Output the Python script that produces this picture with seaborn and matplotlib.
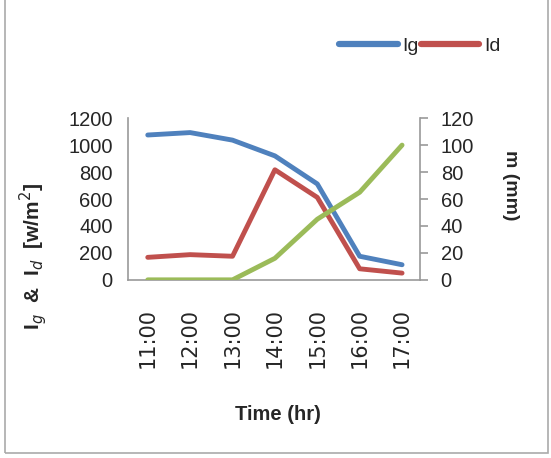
import matplotlib
matplotlib.use("Agg")
import matplotlib.pyplot as plt
from matplotlib.lines import Line2D
from matplotlib.patches import Rectangle
import seaborn as sns
import pandas as pd

times = ["11:00", "12:00", "13:00", "14:00", "15:00", "16:00", "17:00"]
ig = [1075, 1093, 1037, 920, 712, 175, 112]
id_ = [167, 187, 175, 817, 612, 82, 50]
m = [0, 0, 0, 16, 45, 65, 100]

sns.set_theme(style="white")
plt.rcParams['font.family'] = ['Liberation Sans', 'DejaVu Sans']

pos = list(range(len(times)))
df = pd.DataFrame({"pos": pos, "Ig": ig, "Id": id_, "m": m})

blue, red, green = "#4F81BD", "#C0504D", "#9BBB59"
fig = plt.figure(figsize=(5.51, 4.58), dpi=100)
ax = fig.add_axes([0.232, 0.389, 0.530, 0.353])
ax2 = ax.twinx()

sns.lineplot(data=df, x="pos", y="Ig", ax=ax, color=blue, linewidth=3.5, legend=False)
sns.lineplot(data=df, x="pos", y="Id", ax=ax, color=red, linewidth=3.5, legend=False)
sns.lineplot(data=df, x="pos", y="m", ax=ax2, color=green, linewidth=3.5, legend=False)

ax.set_xlim(-0.47, 6.42)
ax.set_ylim(0, 1200)
ax2.set_ylim(0, 120)
ax.set_yticks(range(0, 1201, 200))
ax2.set_yticks(range(0, 121, 20))
ax.set_xticks(pos)
ax.set_xticklabels(times, rotation=90, fontsize=15, va='top', family=['DejaVu Sans'])
ax.tick_params(axis='y', labelsize=14.5, length=0, pad=11)
ax.tick_params(axis='x', length=0, pad=20)
ax2.tick_params(axis='y', labelsize=14.5, length=6, width=1.2, color="#999999", direction='out', pad=9)
for a in (ax, ax2):
    a.set_ylabel("")
    a.set_xlabel("")
    for s in a.spines.values():
        s.set_visible(False)
ax.spines['left'].set_visible(True)
ax.spines['bottom'].set_visible(True)
ax2.spines['right'].set_visible(True)
for s in (ax.spines['left'], ax.spines['bottom'], ax2.spines['right']):
    s.set_color("#999999")
    s.set_linewidth(1.2)

fig.text(0.505, 0.094, "Time (hr)", fontsize=14.5, fontweight='bold', ha='center', va='center')
fig.text(0.06, 0.44, "I$_g$  &  I$_d$  [w/m$^2$]", rotation=90, fontsize=15,
         fontweight='bold', ha='center', va='center')
fig.text(0.926, 0.596, "m (mm)", rotation=270, fontsize=14,
         fontweight='bold', ha='center', va='center')

handles = [Line2D([], [], color=blue, linewidth=4.5), Line2D([], [], color=red, linewidth=4.5)]
fig.legend(handles, ["Ig", "Id"], loc='center', bbox_to_anchor=(0.762, 0.900), ncol=2,
           frameon=False, fontsize=14, handlelength=3.0, columnspacing=0.1, handletextpad=0.25)

fig.patches.append(Rectangle((0.009, 0.012), 0.985, 1.2, transform=fig.transFigure,
                             fill=False, edgecolor="#aaaaaa", linewidth=1.2))
fig.savefig("out.png", dpi=100)
